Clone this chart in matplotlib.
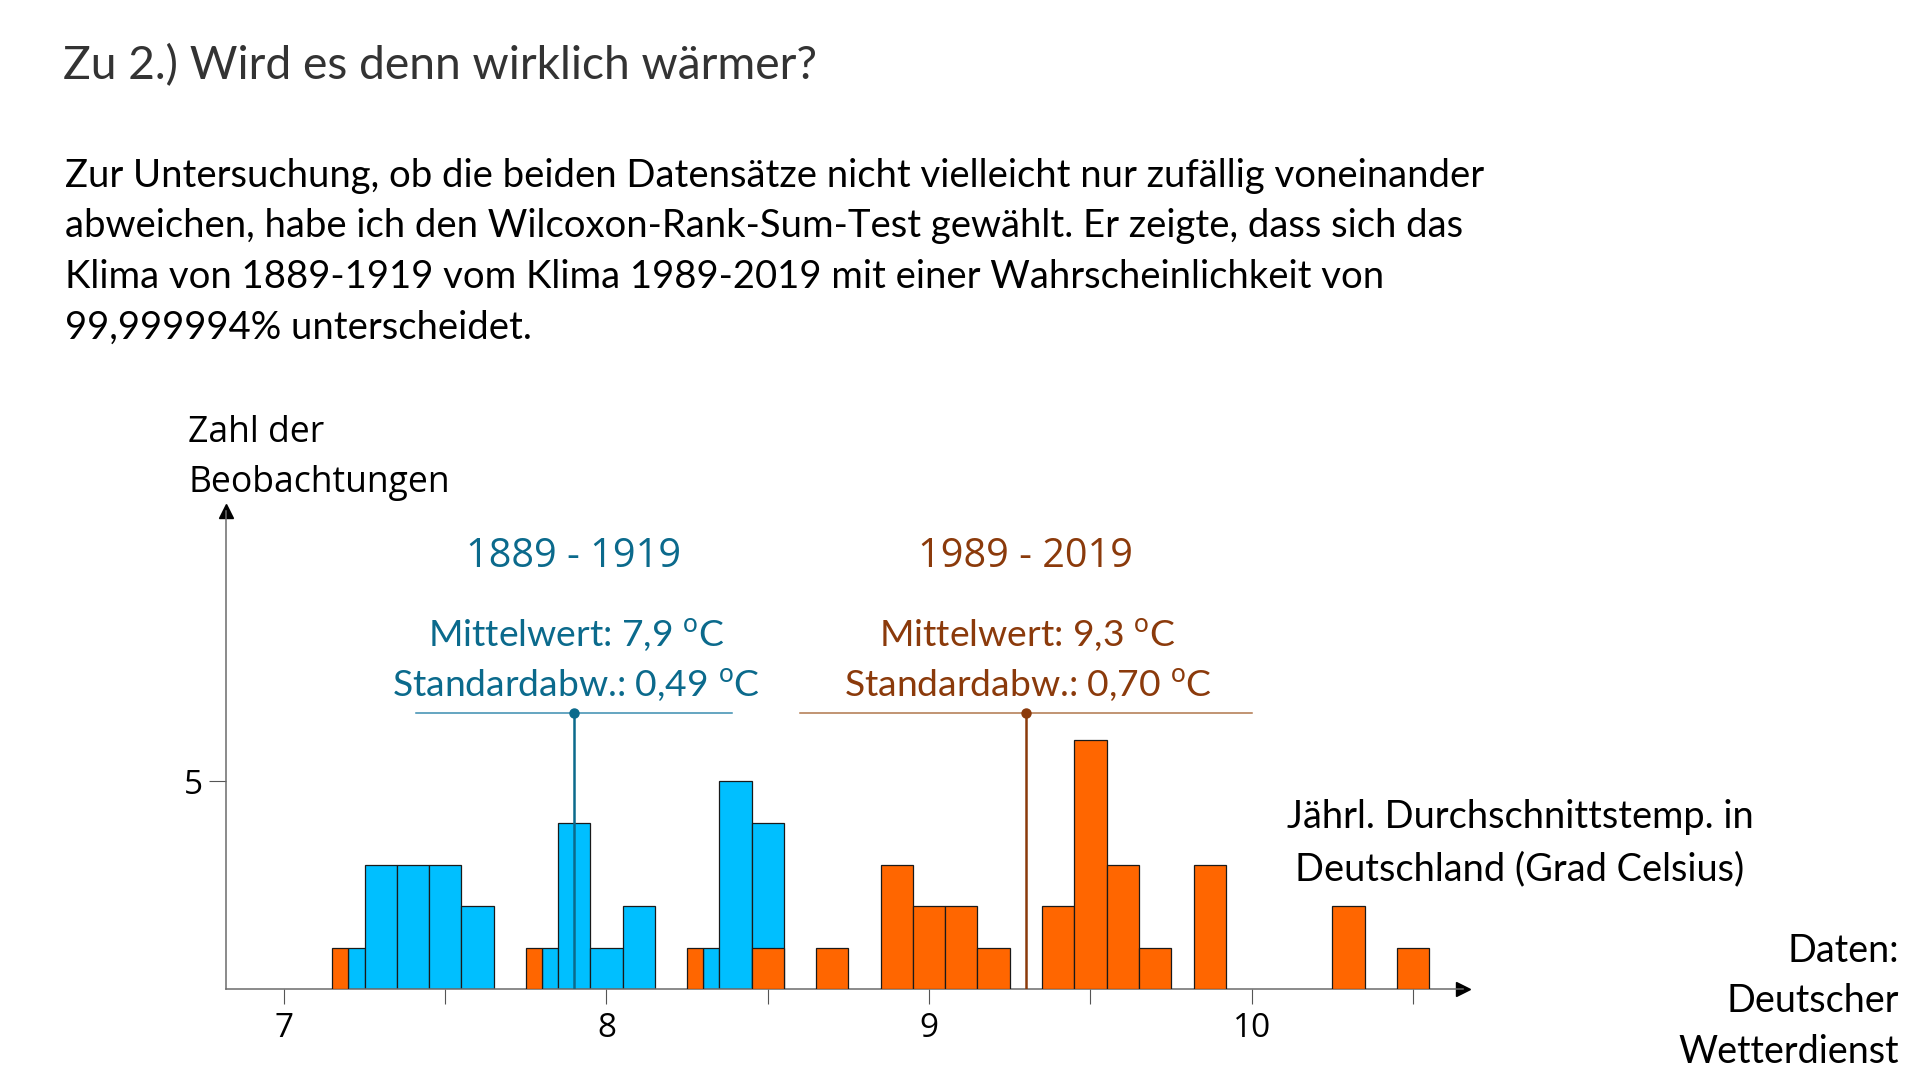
import matplotlib
matplotlib.use("Agg")
import matplotlib.pyplot as plt
import numpy as np

W, H, DPI = 1922, 1082, 100

# ---------------- data ----------------
blue_centers = [7.2, 7.3, 7.4, 7.5, 7.6, 7.8, 7.9, 8.0, 8.1, 8.3, 8.4, 8.5]
blue_counts = [1, 3, 3, 3, 2, 1, 4, 1, 2, 1, 5, 4]
orange_centers = [7.2, 7.8, 8.3, 8.5, 8.7, 8.9, 9.0, 9.1, 9.2, 9.4, 9.5, 9.6, 9.7, 9.87, 10.3, 10.5]
orange_counts = [1, 1, 1, 1, 1, 3, 2, 2, 1, 2, 6, 3, 1, 3, 2, 1]
bin_width = 0.1

blue_mean, blue_sd = 7.9, 0.49
orange_mean, orange_sd = 9.3, 0.70

x_ticks = [7, 7.5, 8, 8.5, 9, 9.5, 10, 10.5]
x_ticklabels = ["7", "", "8", "", "9", "", "10", ""]
y_ticks = [5]
y_ticklabels = ["5"]

title = "Zu 2.) Wird es denn wirklich wärmer?"
body_lines = [
    "Zur Untersuchung, ob die beiden Datensätze nicht vielleicht nur zufällig voneinander",
    "abweichen, habe ich den Wilcoxon-Rank-Sum-Test gewählt. Er zeigte, dass sich das",
    "Klima von 1889-1919 vom Klima 1989-2019 mit einer Wahrscheinlichkeit von",
    "99,999994% unterscheidet.",
]
ylabel_lines = ["Zahl der", "Beobachtungen"]
xlabel_lines = ["Jährl. Durchschnittstemp. in", "Deutschland (Grad Celsius)"]
source_lines = ["Daten:", "Deutscher", "Wetterdienst"]
blue_period = "1889 - 1919"
orange_period = "1989 - 2019"
blue_stats = [r"Mittelwert: 7,9 $^{\mathrm{o}}$C", r"Standardabw.: 0,49 $^{\mathrm{o}}$C"]
orange_stats = [r"Mittelwert: 9,3 $^{\mathrm{o}}$C", r"Standardabw.: 0,70 $^{\mathrm{o}}$C"]

# ---------------- style ----------------
BLUE_FILL = "#00BFFF"
ORANGE_FILL = "#FF6600"
EDGE = "#1a1a1a"
BLUE_TXT = "#0b6a8c"
BLUE_LINE_LIGHT = "#3b8db0"
BROWN_TXT = "#8b3a0b"
BROWN_LINE_LIGHT = "#b0764c"
AXIS = "#6b6b6b"
stat_level = 6.65

plt.rcParams["font.family"] = ["Lato", "DejaVu Sans"]
plt.rcParams["mathtext.fontset"] = "custom"
plt.rcParams["mathtext.rm"] = "Lato"
plt.rcParams["mathtext.it"] = "Lato:italic"
plt.rcParams["mathtext.bf"] = "Lato:bold"

fig = plt.figure(figsize=(W / DPI, H / DPI), dpi=DPI)
fig.patch.set_facecolor("white")


def fx(px):
    return px / W


def fy(py):
    return 1 - py / H


# axes placement (pixels)
ax_left, ax_right, ax_bottom, ax_top = 226.1, 1463.0, 989.3, 511.0
ax = fig.add_axes([fx(ax_left), fy(ax_bottom), (ax_right - ax_left) / W, (ax_bottom - ax_top) / H])
ax.set_xlim(6.821, 10.655)
ax.set_ylim(0, 11.5)
ax.set_facecolor("none")

for s in ["top", "right"]:
    ax.spines[s].set_visible(False)
for s in ["left", "bottom"]:
    ax.spines[s].set_color(AXIS)
    ax.spines[s].set_linewidth(1.1)

ax.plot([1], [0], marker=">", color="black", ms=10, transform=ax.transAxes, clip_on=False)
ax.plot([0], [1], marker="^", color="black", ms=10, transform=ax.transAxes, clip_on=False)

# bars
shared = {}
for c, n in zip(blue_centers, blue_counts):
    shared[round(c, 3)] = n
split = set()
for c, n in zip(orange_centers, orange_counts):
    if round(c, 3) in shared and shared[round(c, 3)] == n:
        split.add(round(c, 3))

bx, bw = [], []
for c in blue_centers:
    if round(c, 3) in split:
        bx.append(c + bin_width / 4); bw.append(bin_width / 2)
    else:
        bx.append(c); bw.append(bin_width)
ax.bar(bx, blue_counts, width=bw, color=BLUE_FILL, edgecolor=EDGE, linewidth=0.9, zorder=2)

ox, ow = [], []
for c in orange_centers:
    if round(c, 3) in split:
        ox.append(c - bin_width / 4); ow.append(bin_width / 2)
    else:
        ox.append(c); ow.append(bin_width)
ax.bar(ox, orange_counts, width=ow, color=ORANGE_FILL, edgecolor=EDGE, linewidth=0.9, zorder=3)

# mean / sd markers
for m, sd, dark, light in [(blue_mean, blue_sd, BLUE_TXT, BLUE_LINE_LIGHT),
                           (orange_mean, orange_sd, BROWN_TXT, BROWN_LINE_LIGHT)]:
    ax.plot([m - sd, m + sd], [stat_level, stat_level], color=light, lw=1.1, zorder=4)
    ax.plot([m, m], [0, stat_level], color=dark, lw=1.8, zorder=5)
    ax.plot([m], [stat_level], "o", color=dark, ms=6.5, zorder=6)

ax.set_xticks(x_ticks)
ax.set_xticklabels(x_ticklabels, fontfamily="Open Sans", fontsize=24)
ax.set_yticks(y_ticks)
ax.set_yticklabels(y_ticklabels, fontfamily="Open Sans", fontsize=24)
ax.tick_params(axis="x", direction="out", length=10.8, width=0.8, colors="#555555", labelcolor="black", pad=5.5)
ax.tick_params(axis="y", direction="out", length=12, width=0.8, colors="#555555", labelcolor="black", pad=4.3)

# ---------------- texts ----------------
fig.text(fx(62.7), fy(79.3), title, fontsize=33.2, color="#333333", va="baseline", ha="left")
for i, line in enumerate(body_lines):
    fig.text(fx(65), fy(186.7 + i * 50.6), line, fontsize=27.5, color="black", va="baseline", ha="left")

for i, line in enumerate(ylabel_lines):
    fig.text(fx(188), fy(441.7 + i * 50.6), line, fontsize=25.6, family="Open Sans", color="black",
             va="baseline", ha="left")

fig.text(fx(574), fy(566.7), blue_period, fontsize=28.5, family="Open Sans", color=BLUE_TXT, va="baseline", ha="center")
fig.text(fx(1026), fy(566.7), orange_period, fontsize=28.5, family="Open Sans", color=BROWN_TXT, va="baseline", ha="center")
for i, line in enumerate(blue_stats):
    fig.text(fx(576), fy(647 + i * 49.7), line, fontsize=26.8, color=BLUE_TXT, va="baseline", ha="center")
for i, line in enumerate(orange_stats):
    fig.text(fx(1027.5), fy(647 + i * 49.7), line, fontsize=26.8, color=BROWN_TXT, va="baseline", ha="center")

for i, line in enumerate(xlabel_lines):
    fig.text(fx(1520), fy(828.3 + i * 51.7), line, fontsize=27.4, color="black", va="baseline", ha="center")
for i, line in enumerate(source_lines):
    fig.text(fx(1899), fy(961.7 + i * 50.7), line, fontsize=27.2, color="black", va="baseline", ha="right")

fig.savefig("out.png", dpi=DPI, facecolor="white")
